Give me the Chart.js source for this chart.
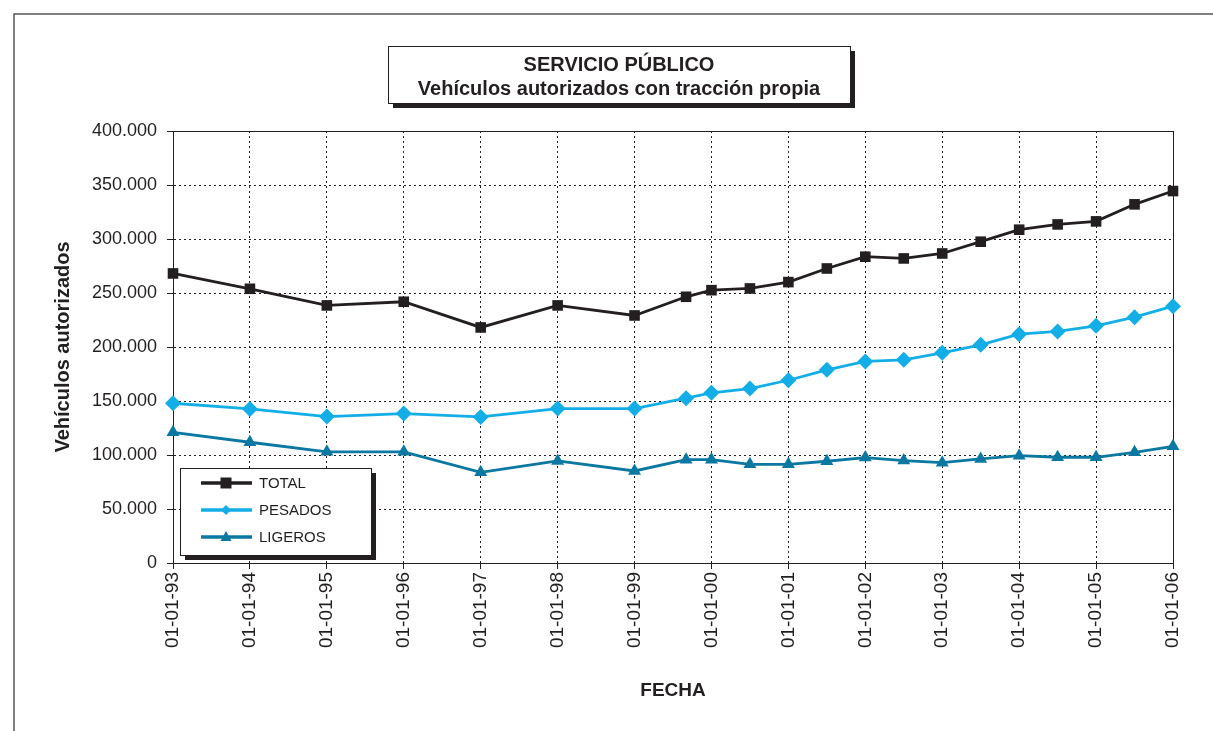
<!DOCTYPE html>
<html>
<head>
<meta charset="utf-8">
<script src="https://cdn.jsdelivr.net/npm/chart.js@4.4.1/dist/chart.umd.min.js"></script>
<style>
  html, body { margin: 0; padding: 0; background: #fff; }
  #wrap { width: 1213px; height: 731px; position: relative; }
</style>
</head>
<body>
<div id="wrap"><canvas id="grafico" width="1213" height="731"></canvas></div>
<script>
// fechas en años decimales (anual hasta 1999, después semestral)
var fechas = [1993, 1994, 1995, 1996, 1997, 1998, 1999, 1999.67, 2000, 2000.5, 2001, 2001.5,
              2002, 2002.5, 2003, 2003.5, 2004, 2004.5, 2005, 2005.5, 2006];
var total = [268100, 253900, 238500, 241900, 218100, 238500, 229200, 246500, 252600, 254200, 260100,
             272700, 283600, 282000, 286600, 297500, 308600, 313500, 316300, 332100, 344400];
var pesados = [147900, 142700, 135600, 138400, 135300, 143000, 143000, 152600, 157600, 161500, 169200,
               178900, 186600, 188100, 194600, 202000, 211900, 214400, 219600, 227600, 237800];
var ligeros = [121000, 111800, 102900, 102900, 84000, 94500, 85200, 95700, 95700, 91400, 91400,
               94200, 97600, 94800, 92900, 96400, 99400, 97900, 97900, 102500, 108000];
var series = ['TOTAL', 'PESADOS', 'LIGEROS'];
var titulo = ['SERVICIO PÚBLICO', 'Vehículos autorizados con tracción propia'];

var FUENTE = '"Liberation Sans", Arial, Helvetica, sans-serif';
var NEGRO = '#231f20';

function puntos(valores) {
    return valores.map(function (v, i) { return {x: fechas[i], y: v}; });
}

function miles(v) {
    return String(v).replace(/\B(?=(\d{3})+(?!\d))/g, '.');
}

// marco exterior, borde del area y titulo/leyenda con sombra
var decoracion = {
    id: 'decoracion',
    beforeDraw: function (chart) {
        var ctx = chart.ctx;
        ctx.save();
        ctx.fillStyle = '#fff';
        ctx.fillRect(0, 0, chart.width, chart.height);
        ctx.strokeStyle = '#555';
        ctx.lineWidth = 1.5;
        ctx.beginPath();
        ctx.moveTo(14, chart.height);
        ctx.lineTo(14, 14);
        ctx.lineTo(chart.width, 14);
        ctx.stroke();
        ctx.restore();
    },
    beforeDatasetsDraw: function (chart) {
        var a = chart.chartArea, ctx = chart.ctx;
        ctx.save();
        ctx.strokeStyle = NEGRO;
        ctx.lineWidth = 1;
        ctx.strokeRect(a.left + 0.5, a.top + 0.5, a.right - a.left, a.bottom - a.top);
        ctx.restore();
    },
    afterDraw: function (chart) {
        var ctx = chart.ctx;
        ctx.save();
        // caja del titulo
        caja(ctx, 388, 46, 462, 57);
        ctx.fillStyle = NEGRO;
        ctx.textAlign = 'center';
        ctx.textBaseline = 'middle';
        ctx.font = 'bold 20px ' + FUENTE;
        ctx.fillText(titulo[0], 619, 65);
        ctx.fillText(titulo[1], 619, 89);

        // leyenda
        caja(ctx, 180, 468, 191, 87);
        var filas = [483, 510, 537];
        chart.data.datasets.forEach(function (ds, i) {
            var y = filas[i];
            ctx.strokeStyle = ds.borderColor;
            ctx.lineWidth = 3.5;
            ctx.beginPath();
            ctx.moveTo(201, y);
            ctx.lineTo(252, y);
            ctx.stroke();
            marcador(ctx, ds.pointStyle, 226, y, ds.borderColor);
            ctx.fillStyle = NEGRO;
            ctx.textAlign = 'left';
            ctx.font = '15px ' + FUENTE;
            ctx.fillText(ds.label, 259, y + 1);
        });
        ctx.restore();
    }
};

function caja(ctx, x, y, w, h) {
    ctx.fillStyle = NEGRO;
    ctx.fillRect(x + 5, y + 5, w, h);
    ctx.fillStyle = '#fff';
    ctx.fillRect(x, y, w, h);
    ctx.strokeStyle = NEGRO;
    ctx.lineWidth = 1;
    ctx.strokeRect(x + 0.5, y + 0.5, w, h);
}

function marcador(ctx, estilo, x, y, color) {
    ctx.fillStyle = color;
    ctx.beginPath();
    if (estilo === 'rect') {
        ctx.rect(x - 5.5, y - 5.5, 11, 11);
    } else if (estilo === 'rectRot') {
        ctx.moveTo(x, y - 5); ctx.lineTo(x + 5, y); ctx.lineTo(x, y + 5); ctx.lineTo(x - 5, y);
    } else {
        ctx.moveTo(x, y - 6); ctx.lineTo(x + 5.5, y + 4); ctx.lineTo(x - 5.5, y + 4);
    }
    ctx.closePath();
    ctx.fill();
}

var ctx = document.getElementById('grafico').getContext('2d');
var grafico = new Chart(ctx, {
    type: 'line',
    data: {
        datasets: [{
            label: series[0],
            data: puntos(total),
            borderColor: NEGRO,
            backgroundColor: NEGRO,
            borderWidth: 2.8,
            pointStyle: 'rect',
            pointRadius: 7.5,
            pointBorderWidth: 0,
            clip: false
        }, {
            label: series[1],
            data: puntos(pesados),
            borderColor: '#13aee8',
            backgroundColor: '#13aee8',
            borderWidth: 2.8,
            pointStyle: 'rectRot',
            pointRadius: 8,
            pointBorderWidth: 0,
            clip: false
        }, {
            label: series[2],
            data: puntos(ligeros),
            borderColor: '#0b78a2',
            backgroundColor: '#0b78a2',
            borderWidth: 2.8,
            pointStyle: 'triangle',
            pointRadius: 7.5,
            pointBorderWidth: 0,
            clip: false
        }]
    },
    options: {
        responsive: false,
        animation: false,
        layout: { padding: { left: 0, top: 131, right: 40, bottom: 0 } },
        plugins: {
            legend: { display: false },
            tooltip: { enabled: false },
            title: { display: false }
        },
        scales: {
            x: {
                type: 'linear',
                min: 1993,
                max: 2006,
                afterFit: function (scale) { scale.height = 168; },
                ticks: {
                    stepSize: 1,
                    autoSkip: false,
                    minRotation: 90,
                    maxRotation: 90,
                    padding: 3,
                    color: NEGRO,
                    font: { family: FUENTE, size: 19 },
                    callback: function (v) { return '01-01-' + String(v).slice(2); }
                },
                grid: { color: NEGRO, lineWidth: 1, tickLength: 6, tickBorderDash: [] },
                border: { display: true, color: NEGRO, width: 1, dash: [2, 3] },
                title: {
                    display: true,
                    text: 'FECHA',
                    color: NEGRO,
                    font: { family: FUENTE, size: 19, weight: 'bold' },
                    padding: { top: 0, bottom: 29 }
                }
            },
            y: {
                min: 0,
                max: 400000,
                afterFit: function (scale) { scale.width = 173; },
                ticks: {
                    stepSize: 50000,
                    padding: 10,
                    color: NEGRO,
                    font: { family: FUENTE, size: 18 },
                    callback: function (v) { return miles(v); }
                },
                grid: { color: NEGRO, lineWidth: 1, tickLength: 6, tickBorderDash: [] },
                border: { display: true, color: NEGRO, width: 1, dash: [2, 3] },
                title: {
                    display: true,
                    text: 'Vehículos autorizados',
                    color: NEGRO,
                    font: { family: FUENTE, size: 20, weight: 'bold' },
                    padding: { top: 51, bottom: 0 }
                }
            }
        }
    },
    plugins: [decoracion]
});
</script>
</body>
</html>
